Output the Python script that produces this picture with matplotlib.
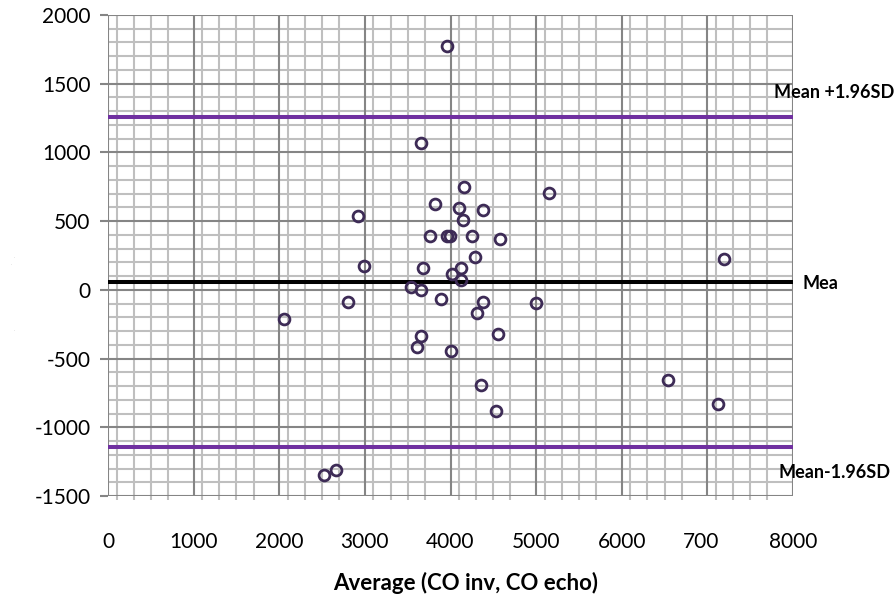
import matplotlib.pyplot as plt
from matplotlib.transforms import ScaledTranslation

# Данные Bland-Altman: среднее и разность (CO inv - CO echo)
avg_co = [3960, 3656, 2917, 3820, 4162, 5155, 4104, 4384, 4144, 3762,
          3957, 3992, 4252, 4576, 4284, 2987, 3673, 4117, 4012, 4128,
          3544, 3653, 2804, 3887, 4374, 4311, 4997, 3661, 3614, 4556,
          4000, 4362, 4526, 2053, 2523, 2657, 7193, 6535, 7126]
diff_co = [1776, 1065, 539, 628, 745, 706, 599, 584, 509, 391,
           395, 391, 391, 369, 240, 170, 158, 158, 119, 71,
           24, 0, -87, -68, -87, -170, -97, -335, -415, -322,
           -444, -691, -881, -213, -1346, -1312, 228, -655, -832]

mean_diff = 60
upper_loa = 1260
lower_loa = -1140

x_ticks = [0, 1000, 2000, 3000, 4000, 5000, 6000, 7000, 8000]
x_tick_labels = ["0", "1000", "2000", "3000", "4000", "5000", "6000", "700", "8000"]
y_ticks = [-1500, -1000, -500, 0, 500, 1000, 1500, 2000]

plt.rcParams['font.family'] = ['Lato', 'DejaVu Sans']
plt.rcParams['axes.unicode_minus'] = False

fig = plt.figure(figsize=(8.96, 5.96), dpi=100)
ax = fig.add_axes([108 / 896, 100 / 596, 685 / 896, 481 / 596])

major_c = '#858585'
minor_c = '#bfbfbf'

# сетка: вспомогательные линии (как в Excel, со сдвигом на 100)
x_minor = [k * 1000 + d for k in range(8) for d in (100, 300, 500, 700)]
y_minor = [v for v in range(-1500, 2001, 100) if v % 500 != 0]
for v in x_minor:
    ax.axvline(v, color=minor_c, lw=1.5, zorder=1)
for v in y_minor:
    ax.axhline(v, color=minor_c, lw=1.5, zorder=1)
for v in x_ticks:
    ax.axvline(v, color=major_c, lw=1.5, zorder=2)
for v in y_ticks:
    ax.axhline(v, color=major_c, lw=1.5, zorder=2)

# средняя разность и границы согласия
ax.axhline(upper_loa, color='#7030a0', lw=2.9, zorder=3)
ax.axhline(lower_loa, color='#7030a0', lw=2.9, zorder=3)
ax.axhline(mean_diff, color='black', lw=2.9, zorder=3)

ax.plot(avg_co, diff_co, 'o', mfc='none', mec='#3d2b56', mew=2.0, ms=7.8, zorder=4)

ax.set_xlim(0, 8000)
ax.set_ylim(-1500, 2000)
for s in ax.spines.values():
    s.set_visible(False)

ax.set_xticks(x_ticks)
ax.set_xticklabels(x_tick_labels)
ax.set_xticks(x_minor, minor=True)
ax.set_yticks(y_ticks)
ax.tick_params(axis='x', which='major', length=0, pad=26, labelsize=15)
ax.tick_params(axis='x', which='minor', length=3, width=1.5, color=minor_c, direction='out')
ax.tick_params(axis='y', which='major', length=6, width=1.5, color=major_c, pad=6.5, labelsize=15)
ax.tick_params(axis='y', which='minor', length=0)

# подпись "700" в оригинале смещена влево
lbl = ax.get_xticklabels()[7]
lbl.set_transform(lbl.get_transform() + ScaledTranslation(-6 / 100, 0, fig.dpi_scale_trans))

fig.text(774 / 896, 1 - 93 / 596, "Mean +1.96SD", fontsize=13, fontweight='bold', va='center')
fig.text(802 / 896, 1 - 283 / 596, "Mea", fontsize=13, fontweight='bold', va='center')
fig.text(778 / 896, 1 - 472 / 596, "Mean-1.96SD", fontsize=13, fontweight='bold', va='center')

fig.text(466 / 896, 1 - 583 / 596, "Average (CO inv, CO echo)", fontsize=16,
         fontweight='bold', ha='center', va='center')

# мелкие следы подписи оси y слева
for px, py in [(15, 258), (12, 265), (15, 331)]:
    fig.text(px / 896, 1 - py / 596, "--", fontsize=2, color='#999999', ha='center', va='center')

plt.savefig("out.png", dpi=100)
